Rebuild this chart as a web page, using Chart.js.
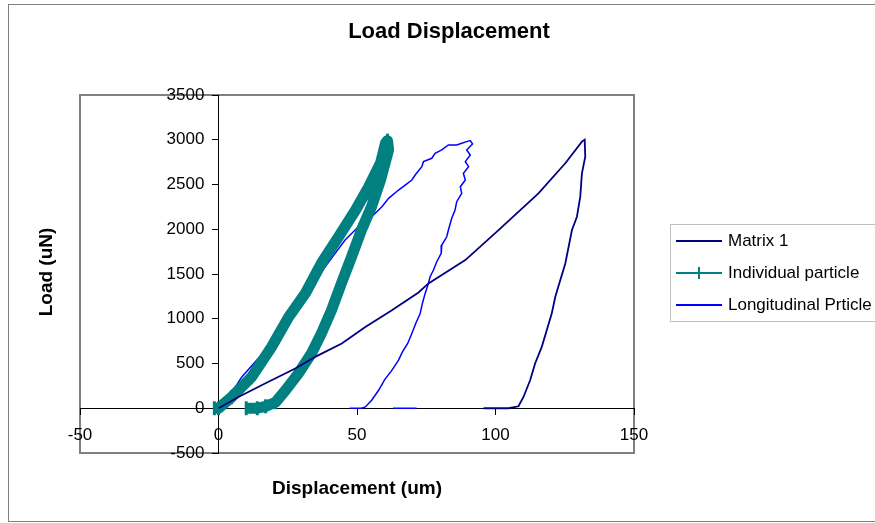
<!DOCTYPE html>
<html>
<head>
<meta charset="utf-8">
<title>Load Displacement</title>
<script src="https://cdn.jsdelivr.net/npm/chart.js@4.4.1/dist/chart.umd.min.js"></script>
<style>
  body { margin: 0; background: #fff; }
  #wrap { position: relative; width: 875px; height: 523px; overflow: hidden; background: #fff;
          font-family: 'Liberation Sans', Arial, sans-serif; color: #000; }
  #chart { position: absolute; left: 0; top: 0; }
  #frame { position: absolute; left: 8px; top: 4px; width: 900px; height: 518px; box-sizing: border-box;
           border: 1px solid #808080; pointer-events: none; }
  .label { position: absolute; font-weight: bold; white-space: nowrap; line-height: 1; transform: translate(-50%, -50%); }
  #title { left: 449px; top: 31px; font-size: 22px; }
  #xtitle { left: 357px; top: 487px; font-size: 19px; }
  #ytitle { left: 45px; top: 272px; font-size: 19px; transform: translate(-50%, -50%) rotate(-90deg); }
  #legend { position: absolute; left: 670px; top: 224px; width: 230px; border: 1px solid #c0c0c0; background: #fff; font-size: 17px; }
  .item { position: relative; height: 32px; line-height: 32px; padding-left: 57px; white-space: nowrap; }
  .item .swatch { position: absolute; left: 5px; top: 15px; width: 46px; height: 2px; }
  .item .tick { position: absolute; left: 27px; top: 10px; width: 2px; height: 12px; }
</style>
</head>
<body>
<div id="wrap">
  <canvas id="chart" width="875" height="523"></canvas>
  <div id="frame"></div>
  <div class="label" id="title">Load Displacement</div>
  <div class="label" id="ytitle">Load (uN)</div>
  <div class="label" id="xtitle">Displacement (um)</div>
  <div id="legend"></div>
</div>
<script>
// [displacement (um), load (uN)]
const matrix1 = [
  [0, 0], [7.2, 126], [16.8, 276], [27.7, 444], [34.9, 574], [44.5, 724], [53, 909], [62.6, 1096],
  [72.2, 1294], [75.8, 1395], [89.1, 1655], [101.1, 1991], [115.5, 2401], [125.2, 2737], [131.2, 2979],
  [132.2, 3000], [132.4, 2811], [131.2, 2625], [130.6, 2364], [129.4, 2140], [127.6, 1991], [126.4, 1804],
  [125.2, 1618], [123.4, 1432], [121.6, 1245], [120.3, 1059], [118.5, 872], [116.7, 686], [114.3, 500],
  [112.5, 313], [110.1, 126], [108.3, 22], [104.7, 0], [95.7, 0]
];

const particle = [
  [-1.5, 0], [0, 0], [4.7, 123], [11.9, 347], [19.1, 682], [25.3, 1018], [31.4, 1286], [37.2, 1622],
  [43.3, 1913], [49.5, 2215], [54.2, 2472], [58.5, 2740], [60.3, 2964], [61, 2990], [61.4, 2886],
  [58.5, 2550], [55.2, 2248], [51.6, 1991], [48, 1689], [44.4, 1398], [40.8, 1096], [37.2, 839],
  [33.6, 615], [28.9, 391], [24.2, 201], [20.6, 67], [17, 22], [14, 0], [10, 0]
];

const longitudinal = [
  [0, 0], [2, 40], [8.4, 350], [18.5, 700], [24.5, 1000], [31, 1300], [38.5, 1581], [42.1, 1730],
  [45.7, 1879], [50.5, 2028], [55.3, 2140], [59, 2252], [61.4, 2345], [65, 2438], [67.4, 2494],
  [69.8, 2550], [71, 2606], [73.4, 2699], [74, 2755], [77, 2793], [78.2, 2849], [80.6, 2886],
  [83, 2942], [86, 2942], [87.8, 2961], [89.6, 2979], [90.9, 2990], [91.7, 2953], [89.6, 2886],
  [90.9, 2830], [89.1, 2755], [90.3, 2699], [88.4, 2625], [89.1, 2550], [87.3, 2475], [87.8, 2401],
  [86, 2308], [85.4, 2215], [84.2, 2122], [83, 1991], [82.4, 1916], [80.6, 1823], [80.4, 1730],
  [78.8, 1637], [77.6, 1544], [76.4, 1469], [75.6, 1376], [74.6, 1283], [73.6, 1171], [72.8, 1059],
  [71.2, 947], [69.8, 836], [68.3, 724], [66.4, 630], [65, 537], [62.5, 420], [60, 320], [57.8, 201],
  [55.3, 89], [53, 15], [51.6, 0], [47.3, 0], [null, null], [63, 0], [71.5, 0]
];

const seriesNames = ['Matrix 1', 'Individual particle', 'Longitudinal Prticle'];
const seriesColors = ['#000080', '#008080', '#0000ff'];

const xTicks = [-50, 0, 50, 100, 150];
const yTicks = [-500, 0, 500, 1000, 1500, 2000, 2500, 3000, 3500];

Chart.defaults.font.family = "'Liberation Sans', Arial, sans-serif";
Chart.defaults.color = '#000';

const toPoints = arr => arr.map(p => ({ x: p[0], y: p[1] }));

const plotFrame = {
  id: 'plotFrame',
  beforeDraw(chart) {
    const { ctx, chartArea: a } = chart;
    ctx.save();
    ctx.strokeStyle = '#808080';
    ctx.lineWidth = 2;
    ctx.strokeRect(a.left, a.top, a.right - a.left, a.bottom - a.top);
    ctx.restore();
  }
};

function buildLegend() {
  const box = document.getElementById('legend');
  seriesNames.forEach((name, i) => {
    const row = document.createElement('div');
    row.className = 'item';
    row.innerHTML = `<span class="swatch" style="background:${seriesColors[i]}"></span>` +
      (i === 1 ? `<span class="tick" style="background:${seriesColors[i]}"></span>` : '') + name;
    box.appendChild(row);
  });
}

function buildChart() {
  const ctx = document.getElementById('chart').getContext('2d');

  new Chart(ctx, {
    type: 'scatter',
    data: {
      datasets: [
        {
          label: seriesNames[0],
          data: toPoints(matrix1),
          showLine: true,
          borderColor: seriesColors[0],
          borderWidth: 1.8,
          pointRadius: 0,
        },
        {
          label: seriesNames[1],
          data: toPoints(particle),
          showLine: true,
          borderColor: seriesColors[1],
          backgroundColor: seriesColors[1],
          borderWidth: 11,
          borderJoinStyle: 'round',
          pointStyle: 'line',
          rotation: 90,
          pointRadius: 7,
          pointBorderWidth: 3,
        },
        {
          label: seriesNames[2],
          data: toPoints(longitudinal),
          showLine: true,
          spanGaps: false,
          borderColor: seriesColors[2],
          borderWidth: 1.5,
          pointRadius: 0,
        }
      ]
    },
    options: {
      responsive: false,
      animation: false,
      events: [],
      layout: { padding: { left: 80, right: 241, top: 95, bottom: 70 } },
      plugins: {
        legend: { display: false },
        title: { display: false },
        tooltip: { enabled: false }
      },
      scales: {
        x: {
          type: 'linear',
          min: xTicks[0],
          max: xTicks[xTicks.length - 1],
          position: { y: 0 },
          afterBuildTicks: s => { s.ticks = xTicks.map(v => ({ value: v })); },
          ticks: { color: '#000', font: { size: 17 }, padding: 11, callback: v => String(v) },
          grid: { drawOnChartArea: false, tickLength: 6, color: '#000' },
          border: { color: '#000', width: 1 }
        },
        y: {
          type: 'linear',
          min: yTicks[0],
          max: yTicks[yTicks.length - 1],
          position: { x: 0 },
          afterBuildTicks: s => { s.ticks = yTicks.map(v => ({ value: v })); },
          // labels of an axis placed at x = 0 sit right on the line, so pad them with spaces
          ticks: { color: '#000', font: { size: 17 }, callback: v => v + '   ' },
          grid: { drawOnChartArea: false, tickLength: 6, color: '#000' },
          border: { color: '#000', width: 1 }
        }
      }
    },
    plugins: [plotFrame]
  });
}

buildLegend();
buildChart();
</script>
</body>
</html>
